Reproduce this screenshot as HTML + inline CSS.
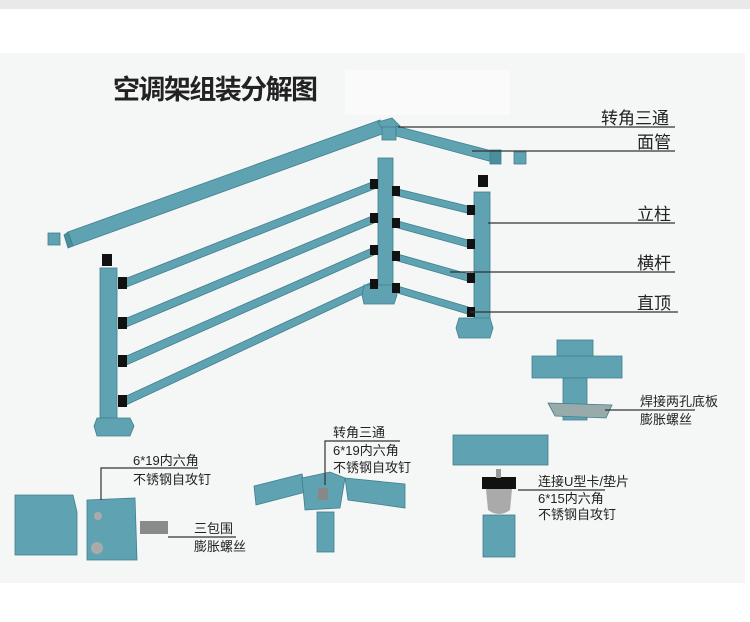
<!DOCTYPE html>
<html><head><meta charset="utf-8"><style>
html,body{margin:0;padding:0;background:#fff;}
svg{display:block}
text{font-family:"Liberation Sans","Noto Sans CJK SC",sans-serif;fill:#222}
</style></head><body>
<svg width="750" height="622" viewBox="0 0 750 622" xmlns="http://www.w3.org/2000/svg">
<rect x="0" y="0" width="750" height="9" fill="#e9e9e9"/>
<rect x="0" y="53" width="745" height="530" fill="#f5f6f6"/>
<rect x="345" y="70" width="165" height="45" fill="#fafafa"/>
<text x="113" y="99" font-size="27" font-weight="bold" fill="#1a1a1a" textLength="205">空调架组装分解图</text>

<g stroke="#3f7f8e" stroke-width="0.8" fill="#5fa3b3">
<polygon points="68,232 380,120 385,133 73,246"/>
<polygon points="68,232 73,246 68,248 64,235" fill="#4a8d9c"/>
<polygon points="378,122 392,118 400,126 384,132"/>
<rect x="382" y="127" width="14" height="13"/>
<polygon points="396,126 500,153 500,164 396,136"/>
<rect x="490" y="150" width="11" height="14" fill="#4a8d9c"/>
<rect x="48" y="233" width="12" height="12"/><rect x="514" y="152" width="12" height="12"/>
<polygon points="122,280 372,182 374,189 124,288"/>
<polygon points="122,320 372,216 374,223 124,328"/>
<polygon points="122,358 372,248 374,255 124,366"/>
<polygon points="122,398 372,282 374,289 124,406"/>
<polygon points="394,188 472,207 471,214 394,195"/>
<polygon points="394,220 472,241 471,248 394,227"/>
<polygon points="394,253 472,275 471,282 394,260"/>
<polygon points="394,285 472,308 471,315 394,292"/>
<rect x="100" y="268" width="17" height="150"/>
<rect x="378" y="158" width="15" height="130"/>
<rect x="474" y="192" width="16" height="128"/>
<polygon points="97,418 130,418 134,426 130,436 97,436 94,426"/>
<polygon points="364,285 394,285 397,295 394,304 364,304 362,295"/>
<polygon points="459,318 490,318 493,328 490,338 459,338 456,328"/>
</g>
<g fill="#111">
<rect x="118" y="277" width="9" height="12"/><rect x="118" y="317" width="9" height="12"/><rect x="118" y="355" width="9" height="12"/><rect x="118" y="395" width="9" height="12"/>
<rect x="370" y="179" width="8" height="10"/><rect x="370" y="213" width="8" height="10"/><rect x="370" y="245" width="8" height="10"/><rect x="370" y="279" width="8" height="10"/>
<rect x="392" y="186" width="8" height="10"/><rect x="392" y="218" width="8" height="10"/><rect x="392" y="251" width="8" height="10"/><rect x="392" y="283" width="8" height="10"/>
<rect x="467" y="205" width="8" height="10"/><rect x="467" y="239" width="8" height="10"/><rect x="467" y="273" width="8" height="10"/><rect x="467" y="307" width="8" height="10"/>
<rect x="102" y="254" width="10" height="12"/><rect x="478" y="175" width="10" height="12"/>
</g>

<g stroke="#333" stroke-width="1.2">
<line x1="398" y1="127" x2="675" y2="127"/>
<line x1="472" y1="151" x2="675" y2="151"/>
<line x1="488" y1="223" x2="675" y2="223"/>
<line x1="450" y1="272" x2="675" y2="272"/>
<line x1="470" y1="312" x2="678" y2="312"/>
</g>
<g font-size="17">
<text x="601" y="124">转角三通</text>
<text x="637" y="148">面管</text>
<text x="637" y="220">立柱</text>
<text x="637" y="269">横杆</text>
<text x="637" y="309">直顶</text>
</g>

<g stroke="#3f7f8e" stroke-width="0.8" fill="#5fa3b3">
<rect x="557" y="340" width="36" height="16"/>
<polygon points="532,356 622,356 622,378 532,378"/>
<rect x="563" y="378" width="24" height="42"/>
<polygon points="548,403 612,405 606,418 555,416" fill="#9aa"/>
</g>
<line x1="605" y1="410" x2="695" y2="410" stroke="#333" stroke-width="1.2"/>
<text x="640" y="406" font-size="13">焊接两孔底板</text>
<text x="640" y="424" font-size="13">膨胀螺丝</text>

<g stroke="#3f7f8e" stroke-width="0.8" fill="#5fa3b3">
<polygon points="254,486 302,474 306,492 256,505"/>
<polygon points="302,478 330,472 345,478 340,508 305,510"/>
<polygon points="345,478 405,484 405,508 348,500"/>
<rect x="317" y="512" width="17" height="40"/>
</g>
<rect x="318" y="488" width="10" height="12" fill="#888"/>
<g stroke="#333" stroke-width="1.2" fill="none"><polyline points="325,485 325,441 400,441"/></g>
<text x="333" y="437" font-size="13">转角三通</text>
<text x="333" y="455" font-size="13">6*19内六角</text>
<text x="333" y="472" font-size="13">不锈钢自攻钉</text>

<g stroke="#3f7f8e" stroke-width="0.8" fill="#5fa3b3">
<polygon points="15,495 73,495 77,512 77,555 15,555"/>
<polygon points="87,500 135,498 137,560 87,560"/>
</g>
<rect x="140" y="521" width="28" height="13" fill="#8a8a8a"/>
<circle cx="97" cy="548" r="6" fill="#aaa"/><circle cx="98" cy="516" r="4" fill="#aaa"/>
<g stroke="#333" stroke-width="1.2" fill="none">
<polyline points="101,500 101,468 198,468"/>
<line x1="168" y1="537" x2="236" y2="537"/>
</g>
<text x="133" y="465" font-size="13">6*19内六角</text>
<text x="133" y="484" font-size="13">不锈钢自攻钉</text>
<text x="194" y="533" font-size="13">三包围</text>
<text x="194" y="551" font-size="13">膨胀螺丝</text>

<g stroke="#3f7f8e" stroke-width="0.8" fill="#5fa3b3">
<rect x="453" y="435" width="95" height="30"/>
<rect x="483" y="515" width="32" height="42"/>
</g>
<rect x="482" y="477" width="34" height="12" fill="#111"/>
<path d="M486,489 L512,489 L510,510 Q499,518 488,510 Z" fill="#aaa"/>
<rect x="496" y="469" width="5" height="9" fill="#999"/>
<line x1="518" y1="490" x2="605" y2="490" stroke="#333" stroke-width="1.2"/>
<text x="538" y="486" font-size="13">连接U型卡/垫片</text>
<text x="538" y="503" font-size="13">6*15内六角</text>
<text x="538" y="519" font-size="13">不锈钢自攻钉</text>
</svg>
</body></html>
